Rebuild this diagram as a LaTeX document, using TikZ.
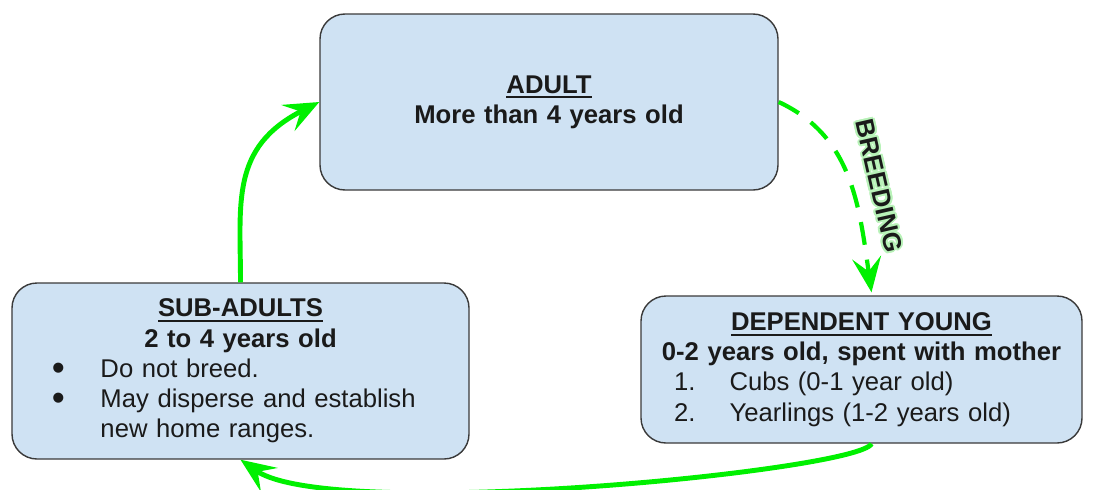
\documentclass[tikz,border=0pt]{standalone}
\usepackage{fontspec}
\setmainfont{Liberation Sans}
\usepackage{xcolor}
\usepackage[copies]{contour}
\usetikzlibrary{positioning,arrows.meta}

\definecolor{boxFill}{HTML}{CFE2F3}
\definecolor{boxLine}{HTML}{3A3A3A}
\definecolor{textDark}{HTML}{1A1A1A}
\definecolor{lifeGreen}{HTML}{00F000}
\definecolor{haloGreen}{HTML}{B8F2B8}

\newcommand{\stagefont}{\fontsize{14.6pt}{17.2pt}\selectfont}
\newcommand{\stagehead}[1]{\setbox0\hbox{\textbf{#1}}\rlap{\rule[-3pt]{\wd0}{1.1pt}}\box0}
\newcommand{\lifeitem}[3]{\par\hangindent=1.77cm\hangafter=1\noindent\hspace*{#1}\makebox[\dimexpr1.77cm-#1\relax][l]{#2}#3}
\newcommand{\bigdot}{\raisebox{-0.13em}{\scalebox{1.45}{\textbullet}}}
\contourlength{1.1pt}

\begin{document}
\begin{tikzpicture}[font=\stagefont, text=textDark,
    stage/.style={draw=boxLine, fill=boxFill, line width=0.8pt, rounded corners=0.5cm, inner sep=0pt},
    lifeline/.style={draw=lifeGreen, line width=2.8pt, -{Stealth[length=0.7cm, width=0.58cm, inset=0.28cm]}}]
  \useasboundingbox (0,0) rectangle (21.86,-9.78);
  % life stages
  \node[stage, minimum width=9.16cm, minimum height=3.52cm, text width=9.16cm] (adult) at (10.98,-2.04)
    {\centering\stagehead{ADULT}\\ \textbf{More than 4 years old}\par};
  \node[stage, minimum width=9.14cm, minimum height=3.52cm, text width=9.14cm] (sub) at (4.81,-7.42)
    {\centering\stagehead{SUB-ADULTS}\\ \textbf{2 to 4 years old}\par
     \raggedright
     \lifeitem{0.8cm}{\bigdot}{Do not breed.}
     \lifeitem{0.8cm}{\bigdot}{May disperse and establish\newline new home ranges.}\par};
  \node[stage, minimum width=8.82cm, minimum height=2.94cm, text width=8.82cm] (dep) at (17.23,-7.39)
    {\centering\stagehead{DEPENDENT YOUNG}\\ \textbf{0-2 years old, spent with mother}\par
     \raggedright
     \lifeitem{0.66cm}{1.}{Cubs (0-1 year old)}
     \lifeitem{0.66cm}{2.}{Yearlings (1-2 years old)}\par};
  % cycle arrows
  \draw[lifeline] (sub.north) .. controls +(90:1.6) and +(-153:2) .. (adult.west);
  \draw[lifeline, line width=2.4pt, dash pattern=on 0.46cm off 0.3cm]
    (adult.east) .. controls +(-25:1.6) and +(98:1.8) .. ([xshift=0.2cm,yshift=0.06cm]dep.north)
    node[sloped, rotate=-4, above=0.16cm, pos=0.58] (breedlabel) {\contour{haloGreen}{\textbf{BREEDING}}};
  \draw[lifeline] ([xshift=0.2cm]dep.south) .. controls +(-115:0.6) and +(-35:2.2) .. (sub.south);
\end{tikzpicture}
\end{document}
